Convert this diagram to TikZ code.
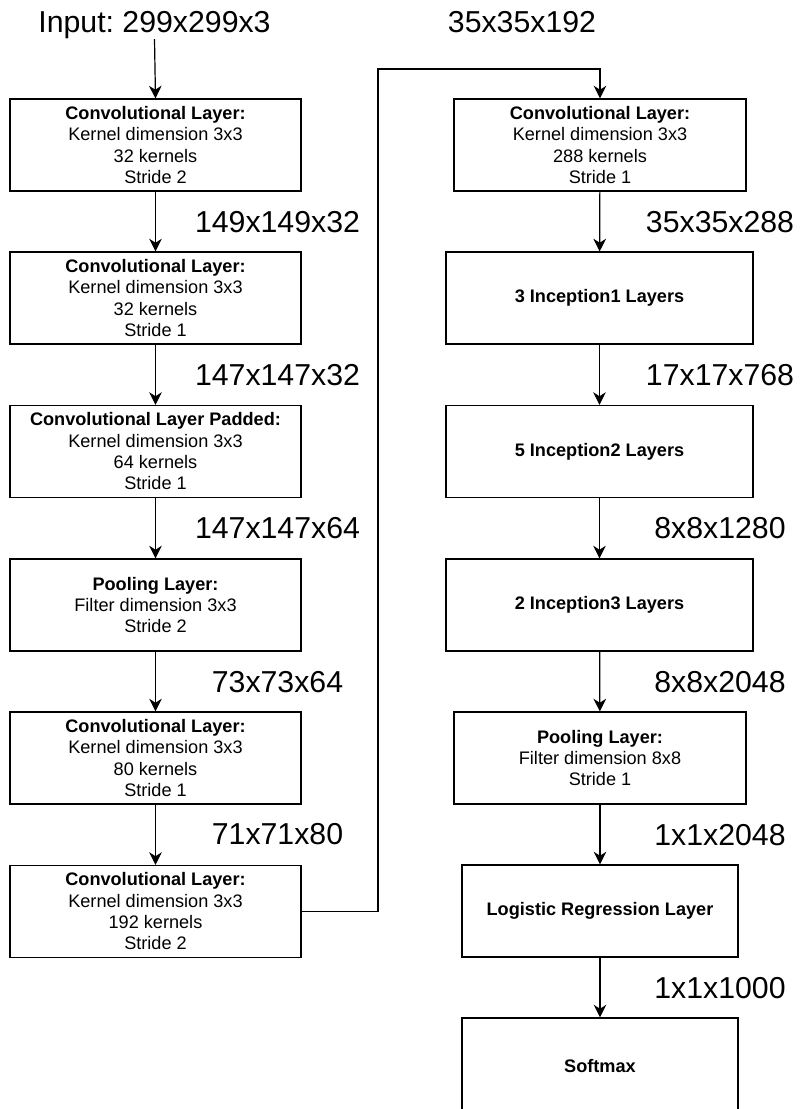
\documentclass[tikz,border=0pt]{standalone}
\usepackage{fontspec}
\setmainfont{Liberation Sans}
\frenchspacing
\usetikzlibrary{arrows.meta}

\begin{document}
\begin{tikzpicture}[x=0.75pt,y=-0.75pt,
  layer/.style={draw,line width=0.9pt,align=center,minimum height=69pt,
    font=\fontsize{13.6}{16}\selectfont},
  dims/.style={anchor=base,inner sep=0pt,font=\fontsize{22.7}{27}\selectfont},
  flow/.style={-{Stealth[length=9.5pt,width=9.5pt,inset=3pt]},line width=0.9pt}]
\useasboundingbox (0,0) rectangle (800,1109);

\node[dims] (in) at (154.5,32.5) {Input: 299x299x3};
\node[dims] (d0) at (522,32.5) {35x35x192};

\node[layer,minimum width=218.25pt] (c1) at (155.5,145)
  {\textbf{Convolutional Layer:}\\Kernel dimension 3x3\\32 kernels\\Stride 2};
\node[layer,minimum width=218.25pt] (c2) at (155.5,298)
  {\textbf{Convolutional Layer:}\\Kernel dimension 3x3\\32 kernels\\Stride 1};
\node[layer,minimum width=218.25pt] (c3) at (155.5,451.5)
  {\textbf{Convolutional Layer Padded:}\\Kernel dimension 3x3\\64 kernels\\Stride 1};
\node[layer,minimum width=218.25pt] (p1) at (155.5,605)
  {\textbf{Pooling Layer:}\\Filter dimension 3x3\\Stride 2};
\node[layer,minimum width=218.25pt] (c4) at (155.5,758)
  {\textbf{Convolutional Layer:}\\Kernel dimension 3x3\\80 kernels\\Stride 1};
\node[layer,minimum width=218.25pt] (c5) at (155.5,911.5)
  {\textbf{Convolutional Layer:}\\Kernel dimension 3x3\\192 kernels\\Stride 2};

\node[layer,minimum width=219pt] (c6) at (600,145)
  {\textbf{Convolutional Layer:}\\Kernel dimension 3x3\\288 kernels\\Stride 1};
\node[layer,minimum width=230.25pt] (inc1) at (599.5,298) {\textbf{3 Inception1 Layers}};
\node[layer,minimum width=230.25pt] (inc2) at (599.5,451.5) {\textbf{5 Inception2 Layers}};
\node[layer,minimum width=230.25pt] (inc3) at (599.5,605) {\textbf{2 Inception3 Layers}};
\node[layer,minimum width=219pt] (p2) at (600,758)
  {\textbf{Pooling Layer:}\\Filter dimension 8x8\\Stride 1};
\node[layer,minimum width=207pt] (lr) at (600,911) {\textbf{Logistic Regression Layer}};
\node[layer,minimum width=207pt,minimum height=72pt] (sm) at (600,1066) {\textbf{Softmax}};

\node[dims] at (277.5,232.75) {149x149x32};
\node[dims] at (277.5,385.75) {147x147x32};
\node[dims] at (277.5,538.75) {147x147x64};
\node[dims] at (277.5,692.75) {73x73x64};
\node[dims] at (277.5,844.75) {71x71x80};

\node[dims] at (720,232.75) {35x35x288};
\node[dims] at (720,385.75) {17x17x768};
\node[dims] at (720,538.75) {8x8x1280};
\node[dims] at (720,692.75) {8x8x2048};
\node[dims] at (720,845.75) {1x1x2048};
\node[dims] at (720,998.75) {1x1x1000};

\draw[flow] (in.south) -- (c1.north);
\draw[flow] (c1) -- (c2);
\draw[flow] (c2) -- (c3);
\draw[flow] (c3) -- (p1);
\draw[flow] (p1) -- (c4);
\draw[flow] (c4) -- (c5);

\coordinate (bend) at (378,69);
\draw[flow] (c5.east) -| (bend) -| (c6.north);

\draw[flow] (c6) -- (inc1);
\draw[flow] (inc1) -- (inc2);
\draw[flow] (inc2) -- (inc3);
\draw[flow] (inc3) -- (p2);
\draw[flow] (p2) -- (lr);
\draw[flow] (lr) -- (sm);
\end{tikzpicture}
\end{document}
